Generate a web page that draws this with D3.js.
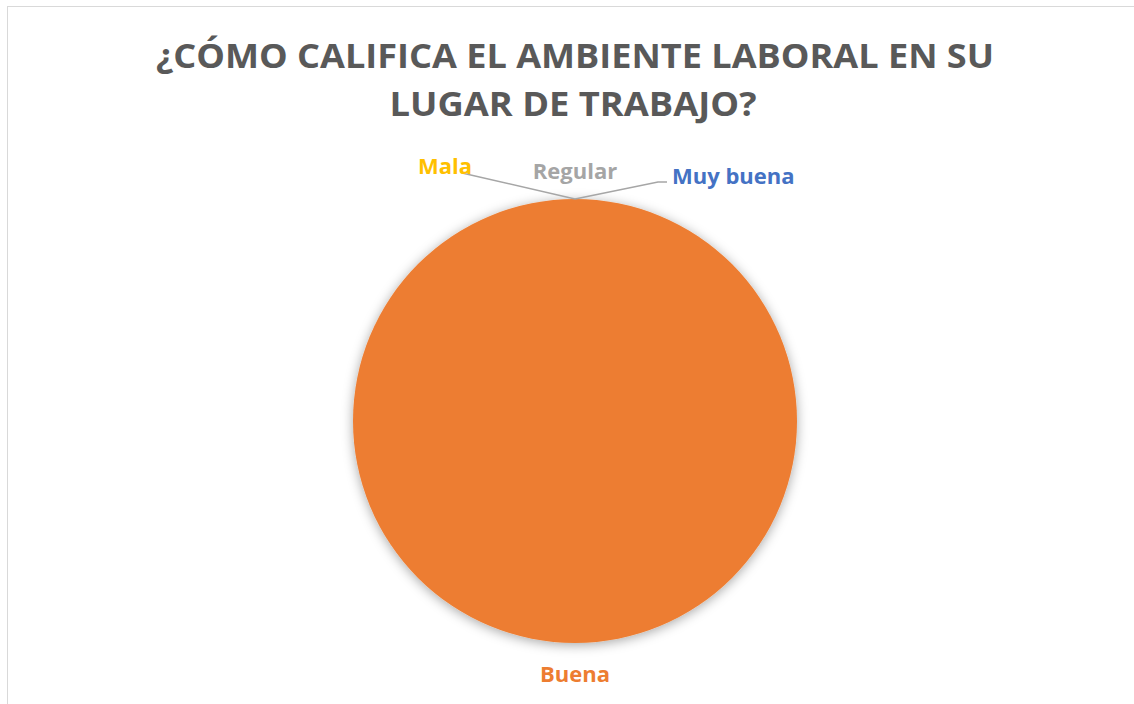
<!DOCTYPE html>
<html>
<head>
<meta charset="utf-8">
<script src="https://cdn.jsdelivr.net/npm/d3@7"></script>
<style>
  html, body { margin: 0; padding: 0; background: #fff; }
  svg { display: block; }
</style>
</head>
<body>
<svg id="chart" width="1134" height="704"></svg>
<script>
// ---- data ----
const categories = ["Muy buena", "Buena", "Regular", "Mala"];
const values = [0, 100, 0, 0];
const colors = ["#4472C4", "#ED7D31", "#A5A5A5", "#FFC000"];
const titleLines = ["¿CÓMO CALIFICA EL AMBIENTE LABORAL EN SU", "LUGAR DE TRABAJO?"];

// ---- layout ----
const W = 1134, H = 704;
const cx = 575, cy = 421, R = 222;
const svg = d3.select("#chart");

// chart border
svg.append("rect")
  .attr("x", 7.5).attr("y", 6.5)
  .attr("width", 1300).attr("height", 900)
  .attr("fill", "#fff").attr("stroke", "#d9d9d9").attr("stroke-width", 1);

// shadow filter
const defs = svg.append("defs");
const f = defs.append("filter").attr("id", "shadow")
  .attr("x", "-20%").attr("y", "-20%").attr("width", "140%").attr("height", "140%");
f.append("feDropShadow").attr("dx", 0).attr("dy", 2).attr("stdDeviation", 6)
  .attr("flood-color", "#000").attr("flood-opacity", 0.35);

// title
const titleX = [575, 573];
const titleY = [68, 116];
const titleLen = [838, 367];
svg.append("g").selectAll("text").data(titleLines).join("text")
  .attr("x", (d, i) => titleX[i])
  .attr("y", (d, i) => titleY[i])
  .attr("text-anchor", "middle")
  .attr("font-family", "'Open Sans', 'Noto Sans', sans-serif")
  .attr("font-weight", "bold")
  .attr("font-size", 34)
  .attr("fill", "#595959")
  .attr("textLength", (d, i) => titleLen[i])
  .attr("lengthAdjust", "spacingAndGlyphs")
  .text(d => d);

// pie
const color = d3.scaleOrdinal().domain(categories).range(colors);
const pie = d3.pie().sort(null).value(d => d.value).startAngle(0).endAngle(2 * Math.PI);
const data = categories.map((c, i) => ({ cat: c, value: values[i] }));
const arcs = pie(data);
const arc = d3.arc().innerRadius(0).outerRadius(R);

const g = svg.append("g").attr("transform", `translate(${cx},${cy})`);
g.selectAll("path").data(arcs.filter(a => a.endAngle > a.startAngle)).join("path")
  .attr("d", arc)
  .attr("fill", d => color(d.data.cat))
  .attr("filter", "url(#shadow)");

// labels
const edge = a => {
  const ang = (a.startAngle + a.endAngle) / 2;
  return [Math.sin(ang) * R, -Math.cos(ang) * R];
};
// label anchor positions (relative to pie centre) for each category
const labelPos = {
  "Muy buena": { x: 97, y: -237, anchor: "start", line: [[0, 0], [83, -239], [92, -239]] },
  "Buena":     { x: 0, y: 261, anchor: "middle", line: null },
  "Regular":   { x: 0, y: -242, anchor: "middle", line: null },
  "Mala":      { x: -157, y: -247, anchor: "start", line: [[0, 0], [-113, -248]] }
};

const lg = g.append("g");
arcs.forEach(a => {
  const p = labelPos[a.data.cat];
  const e = edge(a);
  if (p.line) {
    const pts = p.line.map((q, i) => i === 0 ? [e[0], e[1]] : q);
    lg.append("path")
      .attr("d", d3.line()(pts))
      .attr("fill", "none")
      .attr("stroke", "#a6a6a6")
      .attr("stroke-width", 1.5);
  }
});
arcs.forEach(a => {
  const p = labelPos[a.data.cat];
  lg.append("text")
    .attr("x", p.x).attr("y", p.y)
    .attr("text-anchor", p.anchor)
    .attr("font-family", "'Open Sans', 'Noto Sans', sans-serif")
    .attr("font-weight", "bold")
    .attr("font-size", 22)
    .attr("fill", color(a.data.cat))
    .text(a.data.cat);
});
</script>
</body>
</html>
